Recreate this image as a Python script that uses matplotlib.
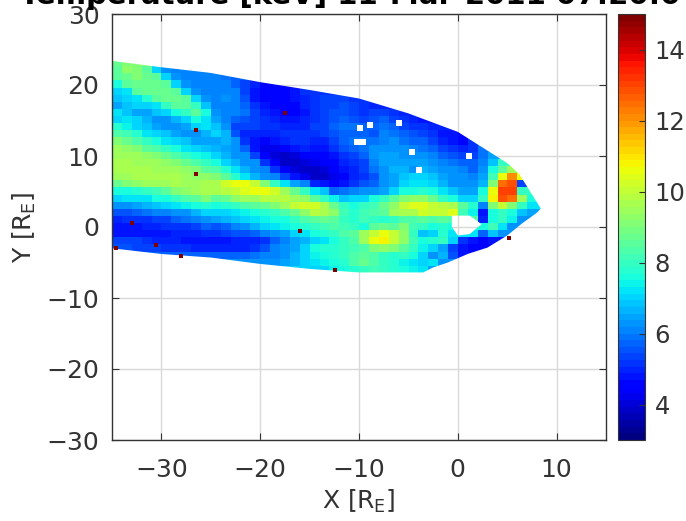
import numpy as np
import pandas as pd
import matplotlib
matplotlib.use('Agg')
import matplotlib.pyplot as plt
from matplotlib.path import Path
from matplotlib.patches import PathPatch

n = np.nan
# rows top to bottom (y = 23 ... -6), columns left to right (x = -35 ... 8), values in keV
temp_rows = [
    [8.8, 9.0],
    [8.5, 9.2, 9.0, 8.6, 7.0, 6.3, 6.0, 6.0],
    [8.5, 8.8, 9.0, 8.8, 8.5, 7.0, 6.2, 6.0, 6.0, 6.0, 6.0, 5.9, 5.8],
    [7.5, 8.5, 8.7, 8.8, 8.7, 8.5, 7.0, 6.2, 6.0, 6.0, 6.0, 6.0, 5.8, 5.4, 5.0, 4.6, 4.6],
    [7, 7.3, 8.5, 8.7, 8.7, 8.7, 8.5, 7, 6.2, 6, 6, 6, 6, 5.4, 4.8, 4.6, 4.5, 4.5, 4.7, 5.2],
    [6.8, 7, 7.2, 7.8, 8.5, 8.7, 8.7, 8.5, 7, 6.2, 6, 6.2, 6, 5.6, 4.8, 4.6, 4.5, 4.5, 4.7, 5, 5.2, 5.4, 5.4, 5.4, 5.2],
    [6.5, 6.8, 7, 7, 7.2, 8, 8.6, 8.6, 8, 6.8, 6, 6, 6, 5.7, 5.2, 4.8, 4.5, 4.5, 4.5, 4.9, 5.1, 5.4, 5.4, 5.6, 5.4, 5.2, 5, 5],
    [7.2, 6.8, 6.5, 6.5, 6.8, 7, 7.5, 8, 8.5, 7.5, 6.3, 6.1, 6.1, 5.9, 5.4, 4.9, 4.8, 4.6, 4.4, 4.7, 5.1, 5.4, 5.6, 5.6, 5.4, 5.2, 5.4, 5.4, 5.2, 5],
    [7, 7.2, 7, 6.6, 6.3, 6.3, 6.6, 7, 7.5, 7.3, 6.4, 6, 5.7, 5.6, 5.4, 5.2, 5, 4.8, 4.8, 4.9, 5.2, 5.4, 5.6, 5.8, 5.6, 5.4, 5.6, 5.8, 5.4, 5.2, 5, 4.8],
    [7.8, 7.4, 7, 6.8, 6.5, 6.3, 6.3, 6.5, 7, 7.2, 6.8, 6.2, 5.4, 5.4, 5.4, 5.2, 5.2, 5, 4.9, 5, 5.3, 5.4, 5.7, 5.9, 5.9, 5.7, 5.8, 5.9, 5.7, 5.4, 5.2, 5.2, 5, 4.9],
    [8.4, 8.2, 7.8, 7.2, 7, 6.8, 6.5, 6.3, 6.2, 6.6, 7, 6.6, 5.6, 5, 4.9, 4.9, 5, 5.2, 5.2, 5.2, 5.2, 5.3, 5.6, 5.8, 5.8, 5.7, 5.6, 6, 5.9, 5.7, 5.6, 5.4, 5.2, 4.8, 4.7, 4.6],
    [9, 8.8, 8.4, 8, 7.6, 7.2, 7, 6.8, 6.5, 6.4, 6.5, 6.6, 6.2, 5.2, 4.7, 4.6, 4.7, 4.9, 5.2, 5.2, 5, 5, 5.4, 5.8, 5.9, 5.9, 5.9, 6, 6.2, 5.9, 5.8, 5.7, 5.4, 5, 4.7, 4.6, 5.2],
    [9.4, 9.3, 9, 8.6, 8.3, 8, 7.5, 7.2, 7, 6.8, 6.6, 6.4, 6.2, 5.7, 4.8, 4.3, 4.2, 4.4, 4.7, 4.9, 4.8, 4.7, 5.1, 5.6, 5.8, 5.9, 6.2, 6.2, 6.2, 6.2, 6, 5.9, 5.7, 5.4, 5.1, 4.9, 5.2, 5.9],
    [9.5, 9.5, 9.4, 9.2, 9, 8.7, 8.3, 8, 7.6, 7.4, 7, 6.6, 6.3, 6.2, 5.4, 4.5, 4, 3.9, 4.1, 4.4, 4.6, 4.5, 4.8, 5.2, 5.4, 5.7, 6.2, 6.4, 6.4, 6.2, 6.2, 6.2, 6, 5.8, 5.6, 5.4, 5.4, 5.9, 6.5],
    [9.6, 9.6, 9.5, 9.5, 9.4, 9.2, 9, 8.7, 8.4, 8, 7.5, 7, 6.6, 6.2, 6.2, 5.2, 4.4, 3.9, 3.8, 4, 4.2, 4.4, 4.6, 5, 5.2, 5.4, 6, 6.4, 6.5, 6.4, 6.4, 6.4, 6.2, 6, 5.9, 5.8, 5.7, 6, 6.8, 8],
    [9.6, 9.6, 9.6, 9.6, 9.5, 9.5, 9.4, 9.3, 9, 8.6, 8.3, 7.8, 7.2, 6.6, 6.2, 6, 5.2, 4.4, 4, 3.8, 3.9, 4.1, 4.4, 4.7, 5, 5.4, 5.9, 6.2, 6.6, 6.6, 6.3, 6.6, 6.4, 6.2, 6.2, 6, 5.8, 6.2, 7.5, 8.5, 9.5],
    [9.5, 9.5, 9.6, 9.6, 9.6, 9.6, 9.6, 9.5, 9.3, 9.3, 9, 8.5, 7.8, 7.2, 6.6, 6.2, 6, 5.4, 4.8, 4.2, 3.9, 3.9, 4.2, 4.6, 5, 5.2, 5.6, 6.2, 6.4, 6.8, 7, 7, 6.8, 6.4, 6.2, 6.2, 6, 6.5, 8.2, 10.5, 12, 10.5],
    [8.8, 9, 9.3, 9.4, 9.5, 9.5, 9.6, 9.5, 9.5, 9.6, 9.6, 10.2, 10.5, 10.5, 10, 9, 8, 7.2, 6.5, 6, 4.9, 4.7, 4.6, 4.8, 5.2, 5.6, 5.8, 6.2, 6.5, 7, 7.2, 7.2, 7, 6.6, 6.2, 6.2, 6.2, 6.6, 9, 12.5, 12.8, 5.4],
    [7.5, 7.6, 7.8, 8, 8.2, 8.6, 9, 9.3, 9.5, 9.6, 9.6, 9.8, 10, 10.4, 10.6, 10.5, 10.2, 9.5, 8.8, 8, 7.3, 6.8, 5.8, 5.9, 6, 6.2, 6.2, 6.4, 7, 7.6, 7.6, 7.8, 7.6, 7.2, 6.8, 6.5, 6.5, 7.5, 10.5, 13, 13, 8],
    [7, 7.2, 7.2, 7.3, 7.5, 7.6, 8, 8.3, 8.6, 9, 8.5, 8.8, 9.2, 9.4, 9.5, 9.8, 9.8, 9.8, 9.5, 9.3, 8.6, 8, 7.4, 6.8, 7, 7, 7.5, 8, 8.5, 9, 9.2, 9.2, 8.8, 8, 7.6, 7, 7, 8, 10.8, 12.8, 12.5, 9.5, 7.5],
    [6.3, 6.3, 6.4, 6.6, 6.8, 7, 7.2, 7.4, 7.5, 7.7, 7.6, 7.8, 8, 8.3, 8.5, 8.8, 9, 9.4, 10, 10.2, 10.2, 9.6, 8.8, 8, 7.5, 8, 8.2, 8.8, 9.3, 10, 10.4, 10.4, 10, 9.8, 9.6, 8.5, 7.8, 6, 9, 10, 9, 8, 7.2],
    [5.6, 5.6, 5.7, 5.9, 6, 6, 6.2, 6.3, 6.6, 7, 7, 7.1, 7.3, 7.4, 7.6, 7.8, 8, 8.4, 8.8, 9.2, 9.8, 9.6, 9.2, 8.2, 7.8, 8.2, 8.3, 8.5, 9.5, 9.6, 9.6, 10.2, 10, 10, 10.4, 8.2, 7.4, 4.8, 7.5, 8, 7.5, 6.8, 6.4],
    [5, 5.1, 5.2, 5.2, 5.3, 5.4, 5.7, 5.9, 6, 6.2, 6.4, 6.6, 6.8, 7, 7.2, 7.4, 7.5, 7.6, 8, 8.3, 8.6, 8.8, 8.6, 8, 7.8, 8.2, 8, 7.8, 8, 8.3, 8.4, 8.6, 8.3, 8.6, 8.4, n, n, 5, 7.5, 8, 7.4, 6.2],
    [4.7, 4.7, 4.8, 4.9, 5, 5.1, 5.2, 5.2, 5.4, 5.7, 5.6, 5.8, 6, 6.3, 6.6, 7, 7.2, 7.4, 7.5, 7.8, 8, 8.2, 8.4, 8.2, 8, 7.6, 8.5, 8.8, 8.6, 9, 8.2, 8, 7.6, 7.8, 7.6, n, n, 7.6, 8.2, 7.2, 6.2],
    [4.8, 4.8, 4.7, 4.7, 4.7, 4.8, 4.9, 4.9, 5, 5.1, 5.2, 5.3, 5.5, 5.6, 5.8, 6, 6.2, 6.5, 7, 7.2, 7.5, 7.8, 8, 8.3, 8.6, 9.5, 10, 10.5, 10, 9.2, 8, 6.8, 7, 7.8, 7.2, n, n, 5.8, 6.8, 6.2],
    [5.4, 5.4, 5.3, 5.2, 5, 5, 4.9, 4.8, 4.7, 4.7, 4.8, 4.8, 4.9, 5, 5, 5.2, 5.7, 6.1, 6.4, 6.6, 7, 7.3, 7.6, 8, 8.4, 9.5, 10.5, 10.8, 10, 9.2, 8.2, 7.6, 7.8, 8, 7, 5.2, 4.7, 4.6, 4.7],
    [5.6, 5.5, 5.4, 5.4, 5.3, 5.2, 5.2, 5.1, 5, 5, 4.9, 4.9, 4.9, 4.9, 5.2, 5.6, 6, 6.2, 6.5, 7, 7.6, 7.8, 7.8, 8, 8.2, 8.4, 9, 9.2, 9, 8.5, 8, 7.4, 7, 6.5, 5.4, 4.8, 4.5, 4.4],
    [n, n, n, n, n, n, n, n, 5.8, 5.8, 5.7, 5.8, 5.8, 5.8, 5.9, 6, 6.1, 6.3, 6.6, 7, 7.4, 7.6, 7.8, 8, 8.3, 8.5, 8.4, 8, 7.8, 8, 7.6, 7, 6.2, 6.6, 5.6, 4.8],
    [n, n, n, n, n, n, n, n, n, n, n, n, n, n, 6.2, 6.3, 6.3, 6.4, 6.6, 7, 7.2, 7.4, 7.6, 7.8, 8.3, 8.8, 8.4, 8, 7.8, 7.4, 7.2, 7, 7.2, 6.2],
    [n, n, n, n, n, n, n, n, n, n, n, n, n, n, n, n, n, n, n, n, n, 7, 7.4, 7.6, 7.8, 8, 8.2, 8, 7.8, 7.6, 7.4, 7.2, 6.5],
]

# edge of the sampled region and of the hole around the Earth
outline_x = [-35, -30, -25, -20, -15, -10, -5, 0, 2.5, 5, 6.2, 8.4, 8, 6.5, 5, 3, 1, -1, -2.5, -3.5, -5, -10, -15, -20, -25, -30, -35]
outline_y = [23.4, 22.5, 21.7, 20.4, 19.3, 18.1, 16, 13.4, 11.2, 9, 7.5, 2.6, 2, 0.5, -1.2, -2.9, -3.8, -5, -5.7, -6.4, -6.4, -6.4, -5.9, -5.2, -4.3, -3.8, -3]
hole_x = [0, 1.2, 2.4, 1.2, -0.6, -0.6]
hole_y = [-1.2, -1, 0.4, 1.6, 1.6, 0]

# stray single pixels: very hot ones and missing ones
hot_x = [-17.5, -26.5, -26.5, -33, -34.6, -30.5, -28, -16, -12.4, 5.2]
hot_y = [16.1, 13.6, 7.5, 0.5, -3, -2.6, -4.1, -0.6, -6.1, -1.6]
gap_x = [-9.9, -8.9, -6, -10.2, -9.6, -4.6, 1.1, -3.9]
gap_y = [14, 14.3, 14.6, 12, 12, 10.5, 10, 8]

xticks = [-30, -20, -10, 0, 10]
yticks = [-30, -20, -10, 0, 10, 20, 30]
cticks = [4, 6, 8, 10, 12, 14]
tick_color = '#333333'

temp = pd.DataFrame([r + [n] * (44 - len(r)) for r in temp_rows])
# cells outside the outline only need a colour, the clip hides them
filled = temp.ffill(axis=1).bfill(axis=1).to_numpy()

plt.rcParams['font.family'] = ['DejaVu Sans']
W, H = 686, 521
fig = plt.figure(figsize=(W / 100, H / 100), dpi=100)
ax = fig.add_axes([112 / W, 1 - 440 / H, (606 - 112) / W, (440 - 14) / H])

ax.grid(True, color='#d9d9d9', lw=1)
ax.set_axisbelow(True)
im = ax.imshow(filled, extent=[-35, 9, -6.5, 23.5], origin='upper', aspect='auto',
               cmap=plt.get_cmap('jet', 64), vmin=3, vmax=15, interpolation='nearest', zorder=1)
outline = list(zip(outline_x, outline_y))
hole = list(zip(hole_x, hole_y))
# hole runs against the outline so that it stays empty
verts = outline + [outline[0]] + hole + [hole[0]]
codes = [Path.MOVETO] + [Path.LINETO] * (len(outline) - 1) + [Path.CLOSEPOLY] \
    + [Path.MOVETO] + [Path.LINETO] * (len(hole) - 1) + [Path.CLOSEPOLY]
clip = PathPatch(Path(verts, codes), transform=ax.transData)
im.set_clip_path(clip)
ax.scatter(gap_x, gap_y, marker='s', s=14, color='white', linewidths=0, zorder=3)
ax.scatter(hot_x, hot_y, marker='s', s=9, color='#800000', linewidths=0, zorder=3)

ax.set_xlim(-35, 15)
ax.set_ylim(-30, 30)
ax.set_xticks(xticks)
ax.set_yticks(yticks)
ax.tick_params(direction='in', length=5, width=0.8, top=True, right=True, labelsize=18,
               colors=tick_color)
ax.tick_params(axis='x', pad=13)
ax.tick_params(axis='y', pad=9)
ax.set_xlabel('X [R$_\\mathrm{E}$]', fontsize=18, color=tick_color, labelpad=4)
ax.set_ylabel('Y [R$_\\mathrm{E}$]', fontsize=18, color=tick_color, labelpad=6)
for s in ax.spines.values():
    s.set_color(tick_color)
    s.set_linewidth(1)

cax = fig.add_axes([618 / W, 1 - 440 / H, (645 - 618) / W, (440 - 14) / H])
cb = fig.colorbar(im, cax=cax, ticks=cticks)
cb.ax.tick_params(direction='in', length=4, width=0.8, labelsize=17.5, colors=tick_color, pad=7)
cb.outline.set_edgecolor(tick_color)

fig.text(350 / W, 1 - 4 / H, 'Temperature [keV] 11-Mar-2011 07:20:0', fontsize=21, fontweight='bold',
         ha='center', va='baseline', color='black')

fig.savefig('out.png', dpi=100)
